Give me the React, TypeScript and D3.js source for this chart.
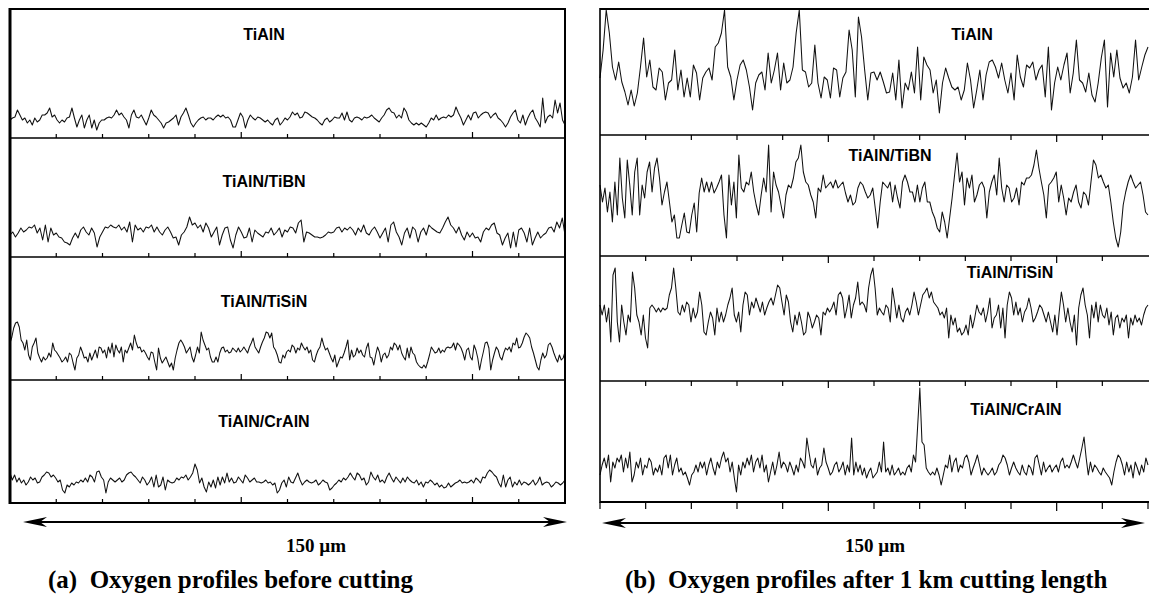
import React from "react";
import * as d3 from "d3";

// ---------- DATA ----------
const coatings = ["TiAlN", "TiAlN/TiBN", "TiAlN/TiSiN", "TiAlN/CrAlN"];
const scanLength = 150; // µm
const tickStep = 12.5; // µm
const axisLabel = "150 µm";
const captionA = "(a)  Oxygen profiles before cutting";
const captionB = "(b)  Oxygen profiles after 1 km cutting length";

// oxygen signal (arbitrary units) before cutting
const beforeTiAlN = [18,20,21,28,23,18,20,15,18,13,20,16,18,23,23,25,30,21,23,18,15,18,16,20,21,30,20,11,18,23,10,18,23,10,18,8,15,18,18,20,21,20,23,28,23,25,21,18,10,23,28,21,20,23,18,13,20,28,23,21,18,15,10,15,16,18,20,23,13,21,25,30,23,15,11,15,18,20,21,18,20,20,18,21,23,21,23,20,21,18,11,11,18,25,21,10,18,23,20,18,21,20,18,16,18,15,13,18,20,13,16,20,18,21,26,
23,25,20,21,26,25,23,21,20,18,15,13,18,20,16,18,21,20,20,25,18,26,18,16,20,21,20,18,21,20,21,23,20,18,16,20,23,28,30,26,25,20,23,20,30,26,18,15,13,15,13,15,13,11,15,20,18,23,18,20,21,20,23,21,23,31,25,20,13,18,23,18,25,26,20,23,25,26,25,20,23,25,20,18,15,11,15,21,25,28,18,15,23,13,20,25,28,20,16,11,40,15,21,23,20,38,25,35,18,13];
const beforeTiBN = [22,25,20,24,29,25,27,30,29,32,24,29,17,32,15,29,22,24,20,19,15,14,12,19,24,19,27,30,25,22,29,24,10,20,25,30,29,32,30,29,32,27,30,25,35,15,32,27,29,25,30,29,32,25,30,25,22,27,30,25,19,20,12,22,25,30,40,32,34,29,32,25,34,29,20,25,30,12,22,29,30,17,9,22,30,25,19,20,29,15,27,24,22,20,25,24,29,22,25,29,20,27,25,30,29,24,34,37,15,25,24,22,20,20,19,20,22,25,24,25,29,30,25,29,27,30,27,22,29,25,32,24,22,27,30,25,19,24,29,15,32,35,25,20,12,24,29,19,30,27,15,25,29,22,32,29,27,25,24,29,35,40,32,29,24,30,22,17,25,20,24,19,20,15,25,29,27,32,34,24,22,12,19,24,9,25,10,27,29,24,15,29,12,19,25,19,22,24,29,30,25,35,29,39,22];
const beforeTiSiN = [37,43,52,57,58,53,40,37,30,40,25,20,33,37,42,27,22,18,23,20,22,27,23,37,30,28,25,22,18,20,23,18,27,25,17,10,22,25,33,28,22,23,18,27,20,25,30,22,33,32,27,30,22,33,27,37,23,35,30,27,33,18,30,27,32,37,30,45,37,32,33,28,30,27,23,20,28,27,18,10,32,22,17,20,23,18,13,17,10,22,30,37,40,37,33,27,30,33,23,18,25,33,27,48,40,35,30,32,23,18,18,23,18,27,32,33,28,30,27,28,32,30,28,32,28,30,33,30,27,33,37,42,33,30,27,33,38,42,48,47,42,47,33,30,25,18,17,25,22,28,30,28,35,33,27,32,30,37,33,30,33,27,30,20,18,25,30,33,42,35,30,32,27,22,18,25,13,18,23,22,27,33,40,20,30,23,25,32,27,30,25,23,32,37,23,22,15,25,33,28,18,25,27,22,25,33,30,37,35,30,35,27,23,20,32,22,33,27,25,18,15,13,12,15,12,18,25,33,30,27,28,32,27,30,28,32,33,32,33,37,30,37,35,32,27,20,30,32,23,20,35,30,22,10,20,28,37,38,32,10,20,27,33,30,23,20,27,32,30,33,28,37,35,42,32,33,37,43,47,45,42,33,27,20,13,10,20,27,22,25,35,37,33,27,22,18,25,20,22,28];
const beforeCrAlN = [30,23,28,21,25,20,23,18,21,26,23,25,20,21,26,28,31,30,26,28,25,21,23,13,10,18,16,20,18,21,20,23,21,25,21,28,26,21,31,32,26,23,10,21,25,23,21,23,25,21,23,28,30,31,28,26,23,20,26,23,18,21,26,16,28,16,18,26,13,23,21,20,21,25,23,26,25,28,23,26,30,39,33,20,25,16,11,21,16,23,15,26,18,26,20,30,21,25,20,21,26,23,20,28,25,21,23,25,21,21,20,21,23,20,21,18,20,10,13,20,23,16,26,21,20,25,30,23,18,21,23,21,20,21,23,18,20,23,21,20,13,15,18,20,23,21,25,23,26,30,26,23,30,28,23,25,18,21,31,26,23,28,21,23,20,26,30,25,21,26,23,20,25,21,26,23,21,20,23,18,21,16,21,20,23,21,18,20,16,18,15,16,20,16,18,20,21,23,20,21,20,21,23,20,25,23,20,26,25,30,33,31,28,26,20,16,28,16,23,26,16,21,18,23,18,21,20,18,20,23,18,21,26,18,20,21,20,16,18,21,20,18,20,23];

// oxygen signal (arbitrary units) after 1 km cutting length
const afterTiAlN = [57,85,125,102,68,55,73,53,43,30,45,29,42,68,97,58,75,48,45,67,63,35,52,55,85,45,65,38,57,38,70,62,35,57,63,67,55,88,92,102,125,68,58,35,55,70,75,65,48,25,52,60,63,45,82,52,65,82,45,72,52,55,68,102,125,65,63,48,52,90,52,37,58,55,37,67,65,38,57,63,105,85,38,118,98,65,35,
62,63,55,63,53,42,43,62,35,75,27,52,45,63,42,88,35,78,70,65,42,55,22,52,67,57,48,45,48,35,45,72,55,27,45,65,35,60,73,75,68,57,72,55,42,62,35,80,58,48,70,67,73,55,65,70,38,88,25,52,68,55,70,82,42,62,95,55,52,43,62,40,33,52,77,95,28,82,58,85,57,47,52,42,58,95,55,68,80,88];
const afterTiBN = [71,54,68,44,64,34,74,41,98,58,38,96,71,41,84,98,41,71,58,84,94,64,88,98,78,51,64,74,54,34,41,18,18,31,43,24,23,41,53,24,63,78,64,74,64,74,63,68,74,81,41,18,81,51,74,38,101,68,64,74,71,84,64,51,41,61,78,64,111,44,84,71,64,51,38,61,71,68,78,94,98,111,84,74,71,61,54,38,68,64,81,68,71,74,68,76,68,71,74,63,54,61,51,54,68,74,71,64,58,61,68,48,28,54,74,71,68,74,54,71,58,48,74,81,74,64,64,54,71,54,68,74,54,54,44,38,28,24,44,34,18,38,58,81,103,74,84,51,78,68,81,54,61,71,74,68,38,64,74,81,61,98,68,54,71,68,54,58,68,51,74,71,78,78,81,91,106,88,74,61,38,71,74,78,84,54,71,58,41,58,54,64,71,54,48,64,61,51,74,96,91,78,81,74,68,71,54,34,18,9,24,51,64,74,81,74,68,71,74,61,44,41];
const afterTiSiN = [76,66,76,59,73,39,106,113,59,39,76,59,46,66,59,109,93,66,59,46,66,43,33,73,76,73,69,73,69,73,71,73,86,93,113,93,69,66,76,69,79,76,59,73,63,69,89,76,49,46,59,69,63,46,73,59,69,59,66,76,83,93,66,59,69,49,76,89,86,66,79,73,83,76,69,79,66,73,79,83,76,86,96,93,79,66,86,79,59,49,66,56,69,59,46,49,69,63,53,59,66,63,46,69,66,73,69,73,79,66,86,89,83,63,73,86,63,76,83,99,76,79,76,69,93,106,113,93,66,73,69,66,76,73,59,93,79,63,76,63,59,69,73,66,76,89,79,66,76,86,89,93,83,89,79,76,73,66,69,63,73,43,66,56,63,49,53,46,49,56,46,66,53,63,76,69,66,73,59,69,83,53,63,66,76,53,73,43,76,89,83,66,79,66,73,59,69,73,83,73,59,63,69,76,73,66,59,69,59,49,66,46,69,89,76,59,73,59,49,66,36,73,86,93,76,66,43,76,63,79,59,76,66,63,73,56,69,46,63,66,53,63,59,66,43,63,56,66,59,63,56,66,73,76];
const afterCrAlN = [27,37,44,34,47,20,40,34,44,40,47,30,44,34,50,20,27,40,34,44,27,37,34,44,40,27,34,30,37,27,44,47,34,47,27,37,44,30,34,27,30,24,17,27,30,37,30,40,34,40,27,37,44,34,27,40,34,44,50,40,44,30,40,24,10,37,27,40,34,44,37,47,30,40,44,34,47,30,37,20,30,40,27,37,50,34,40,37,30,40,34,27,37,30,44,40,34,64,50,37,34,44,27,34,37,54,40,34,27,30,37,40,30,34,40,27,37,30,64,27,40,30,37,27,34,24,30,34,24,27,30,40,30,60,30,34,27,37,27,30,34,27,30,27,34,37,30,47,40,77,114,60,57,34,30,27,30,27,34,27,17,27,37,34,47,30,40,44,30,37,34,44,47,40,27,34,40,47,37,27,34,30,27,30,34,27,30,37,40,47,44,37,27,34,40,34,30,27,37,30,27,37,34,27,44,47,37,27,40,30,34,37,30,34,37,30,40,44,34,37,34,40,47,40,34,44,54,65,44,27,40,30,37,34,30,27,34,30,27,24,17,30,40,47,44,37,27,40,30,37,24,40,34,27,37,30,44,37];

const beforeSeries = [beforeTiAlN, beforeTiBN, beforeTiSiN, beforeCrAlN];
const afterSeries = [afterTiAlN, afterTiBN, afterTiSiN, afterCrAlN];

// ---------- LAYOUT ----------
const W = 1149;
const H = 599;
const A = { x0: 10, x1: 565, rows: [9, 138, 257, 380, 503] };
const B = { x0: 600, x1: 1149, rows: [9, 135, 256, 381, 502] };
const labelA = { x: [264, 264, 264, 264], y: [40, 187, 307, 427] };
const labelB = { x: [972, 890, 1010, 1016], y: [40, 161, 278, 415] };

const sans = "'Liberation Sans', Arial, Helvetica, sans-serif";
const serif = "'Liberation Serif', 'Times New Roman', Times, serif";

const xA = d3.scaleLinear().domain([0, scanLength]).range([A.x0, A.x1]);
const xB = d3.scaleLinear().domain([0, scanLength]).range([B.x0, 1148]);
const tickValues = d3.range(0, scanLength + 0.01, tickStep);

function profilePath(values: number[], x: d3.ScaleLinear<number, number>, bottom: number) {
  const y = d3.scaleLinear().domain([0, 100]).range([bottom, bottom - 100]);
  const n = values.length;
  const line = d3
    .line<number>()
    .x((_, i) => x((i * scanLength) / (n - 1)))
    .y((d) => y(d));
  return line(values) || "";
}

function Arrow({ x0, x1, y }: { x0: number; x1: number; y: number }) {
  const hl = 24;
  const hw = 5;
  const notch = 17;
  return (
    <g>
      <line x1={x0 + 10} x2={x1 - 10} y1={y} y2={y} stroke="#000" strokeWidth={2} />
      <path
        d={`M${x0},${y} L${x0 + hl},${y - hw} L${x0 + notch},${y} L${x0 + hl},${y + hw} Z`}
        fill="#000"
      />
      <path
        d={`M${x1},${y} L${x1 - hl},${y - hw} L${x1 - notch},${y} L${x1 - hl},${y + hw} Z`}
        fill="#000"
      />
    </g>
  );
}

export default function App() {
  return (
    <svg
      width={W}
      height={H}
      viewBox={`0 0 ${W} ${H}`}
      style={{ position: "absolute", left: 0, top: 0, background: "#fff" }}
    >
      <rect x={0} y={0} width={W} height={H} fill="#fff" />

      {/* ---------- Panel (a) ---------- */}
      <g>
        {beforeSeries.map((vals, r) => (
          <path
            key={"pa" + r}
            d={profilePath(vals, xA, A.rows[r + 1])}
            fill="none"
            stroke="#111"
            strokeWidth={1.05}
            strokeLinejoin="round"
          />
        ))}
        {A.rows.slice(1, 4).map((y, i) => (
          <line key={"sa" + i} x1={A.x0} x2={A.x1} y1={y} y2={y} stroke="#000" strokeWidth={1.6} />
        ))}
        {A.rows.slice(1).map((y, r) =>
          tickValues.slice(1, -1).map((t, k) => {
            const long = (k + 1) % 5 === 0;
            return (
              <line
                key={`ta${r}-${k}`}
                x1={xA(t)}
                x2={xA(t)}
                y1={y}
                y2={y - (long ? 6 : 4)}
                stroke="#000"
                strokeWidth={1.2}
              />
            );
          })
        )}
        <line x1={A.x0} x2={A.x1} y1={A.rows[0]} y2={A.rows[0]} stroke="#000" strokeWidth={2} />
        <line x1={A.x0} x2={A.x1} y1={A.rows[4]} y2={A.rows[4]} stroke="#000" strokeWidth={2.2} />
        <line x1={A.x0} x2={A.x0} y1={A.rows[0] - 1} y2={A.rows[4] + 1} stroke="#000" strokeWidth={3} />
        <line x1={A.x1} x2={A.x1} y1={A.rows[0] - 1} y2={A.rows[4] + 1} stroke="#000" strokeWidth={2} />
        {coatings.map((c, i) => (
          <text
            key={"la" + i}
            x={labelA.x[i]}
            y={labelA.y[i]}
            textAnchor="middle"
            fontFamily={sans}
            fontWeight="bold"
            fontSize={16}
            fill="#000"
          >
            {c}
          </text>
        ))}
        <Arrow x0={23} x1={567} y={522} />
        <text x={316} y={552} textAnchor="middle" fontFamily={serif} fontWeight="bold" fontSize={19}>
          {axisLabel}
        </text>
        <text x={48} y={588} fontFamily={serif} fontWeight="bold" fontSize={25} style={{ whiteSpace: "pre" }}>
          {captionA}
        </text>
      </g>

      {/* ---------- Panel (b) ---------- */}
      <g>
        {afterSeries.map((vals, r) => (
          <path
            key={"pb" + r}
            d={profilePath(vals, xB, B.rows[r + 1])}
            fill="none"
            stroke="#111"
            strokeWidth={1.05}
            strokeLinejoin="round"
          />
        ))}
        <line x1={B.x0} x2={B.x1} y1={B.rows[0]} y2={B.rows[0]} stroke="#000" strokeWidth={2} />
        {B.rows.slice(1, 4).map((y, i) => (
          <line key={"sb" + i} x1={B.x0} x2={B.x1} y1={y} y2={y} stroke="#000" strokeWidth={1.6} />
        ))}
        {B.rows.slice(1, 4).map((y, r) =>
          tickValues.slice(1, -1).map((t, k) => {
            const long = (k + 1) % 5 === 0;
            return (
              <line
                key={`tb${r}-${k}`}
                x1={xB(t)}
                x2={xB(t)}
                y1={y}
                y2={y + (long ? 7 : 5)}
                stroke="#000"
                strokeWidth={1.2}
              />
            );
          })
        )}
        <line x1={B.x0} x2={B.x1} y1={B.rows[4]} y2={B.rows[4]} stroke="#000" strokeWidth={2} />
        {tickValues.map((t, k) => {
          const long = k % 5 === 0 && k > 0;
          return (
            <line
              key={"tbb" + k}
              x1={xB(t)}
              x2={xB(t)}
              y1={B.rows[4]}
              y2={B.rows[4] + (long ? 9 : 7)}
              stroke="#000"
              strokeWidth={1.2}
            />
          );
        })}
        <line x1={B.x0} x2={B.x0} y1={B.rows[0] - 1} y2={B.rows[4] + 1} stroke="#000" strokeWidth={1.6} />
        {coatings.map((c, i) => (
          <text
            key={"lb" + i}
            x={labelB.x[i]}
            y={labelB.y[i]}
            textAnchor="middle"
            fontFamily={sans}
            fontWeight="bold"
            fontSize={16}
            fill="#000"
          >
            {c}
          </text>
        ))}
        <Arrow x0={602} x1={1145} y={523} />
        <text x={875} y={552} textAnchor="middle" fontFamily={serif} fontWeight="bold" fontSize={19}>
          {axisLabel}
        </text>
        <text x={625} y={588} fontFamily={serif} fontWeight="bold" fontSize={25} style={{ whiteSpace: "pre" }}>
          {captionB}
        </text>
      </g>
    </svg>
  );
}
